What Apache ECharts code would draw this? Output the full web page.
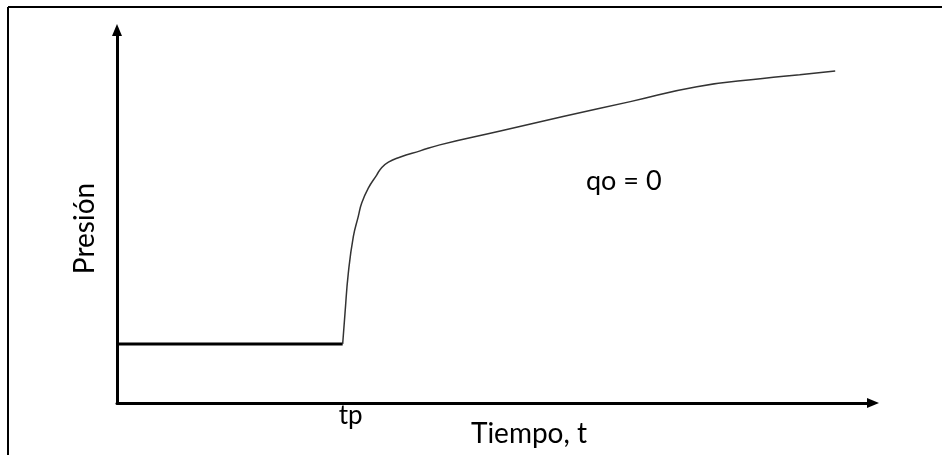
<!DOCTYPE html>
<html>
<head>
<meta charset="UTF-8">
<title>Presión vs Tiempo</title>
<script type="text/javascript" src="https://cdn.jsdelivr.net/npm/echarts@6/dist/echarts.min.js"></script>
<style>
	html, body { margin:0; padding:0; background:#fff; }
</style>
</head>
<body>
	<div id="box" style="width:942px;height:455px;"></div>
	<script type="text/javascript">
		// tramo constante antes del cierre (tp)
		var tiempoFlujo = [0, 29.85];
		var presionFlujo = [15.8, 15.8];
		// restauracion de presion despues de tp (qo = 0)
		var tiempoCierre = [29.85, 30.16, 30.6, 31.26, 31.9, 32.37, 33.24, 34.35, 35.0, 35.9, 37.4, 40.1, 42.7, 50.7, 59.0, 67.9, 76.7, 85.4, 90.3, 95.0];
		var presionCierre = [15.8, 24.1, 34.9, 44.6, 49.9, 53.6, 57.6, 61.1, 63.1, 64.6, 65.9, 67.6, 69.2, 72.9, 76.8, 80.8, 84.8, 87.0, 88.0, 89.0];
		var marcaTp = [30.9];
		var fuente = 'Lato';

		function pares(xs, ys) {
			var out = [];
			for (var i = 0; i < xs.length; i++) out.push([xs[i], ys[i]]);
			return out;
		}

		var mychart = echarts.init(document.getElementById('box'));
		var option = {
			animation: false,
			backgroundColor: '#fff',
			grid: { left: 117, right: 69, top: 30, bottom: 52, outerBoundsMode: 'none', containLabel: false },
			xAxis: {
				type: 'value',
				min: 0, max: 100,
				name: 'Tiempo, t',
				nameLocation: 'middle',
				nameGap: 17,
				nameMoveOverlap: false,
				nameTextStyle: { fontFamily: fuente, fontSize: 28, color: '#000', padding: [0, 0, 0, 68] },
				axisLine: { lineStyle: { color: '#000', width: 3 }, symbol: ['none', 'triangle'], symbolSize: [10, 12] },
				axisTick: { show: false },
				splitLine: { show: false },
				axisLabel: {
					customValues: marcaTp,
					formatter: function () { return 'tp'; },
					fontFamily: fuente, fontSize: 26, color: '#000', margin: 0
				}
			},
			yAxis: {
				type: 'value',
				min: 0, max: 100,
				name: 'Presión',
				nameLocation: 'middle',
				nameGap: 18,
				nameTextStyle: { fontFamily: fuente, fontSize: 28, color: '#000', padding: [0, 24, 0, 0] },
				axisLine: { lineStyle: { color: '#000', width: 3 }, symbol: ['none', 'triangle'], symbolSize: [10, 12] },
				axisTick: { show: false },
				splitLine: { show: false },
				axisLabel: { show: false }
			},
			graphic: [
				{ type: 'line', shape: { x1: 8, y1: 7, x2: 942, y2: 7 }, style: { stroke: '#000', lineWidth: 2 } },
				{ type: 'line', shape: { x1: 8, y1: 7, x2: 8, y2: 455 }, style: { stroke: '#000', lineWidth: 2 } },
				{ type: 'text', left: 586, top: 168, style: { text: 'qo = 0', font: '27px Lato', fill: '#000' } }
			],
			series: [{
				name: 'flujo',
				type: 'line',
				showSymbol: false,
				data: pares(tiempoFlujo, presionFlujo),
				lineStyle: { color: '#000', width: 3 }
			}, {
				name: 'cierre',
				type: 'line',
				showSymbol: false,
				smooth: 0.5,
				data: pares(tiempoCierre, presionCierre),
				lineStyle: { color: '#333', width: 1.5 }
			}]
		};
		mychart.setOption(option);
	</script>
</body>
</html>
